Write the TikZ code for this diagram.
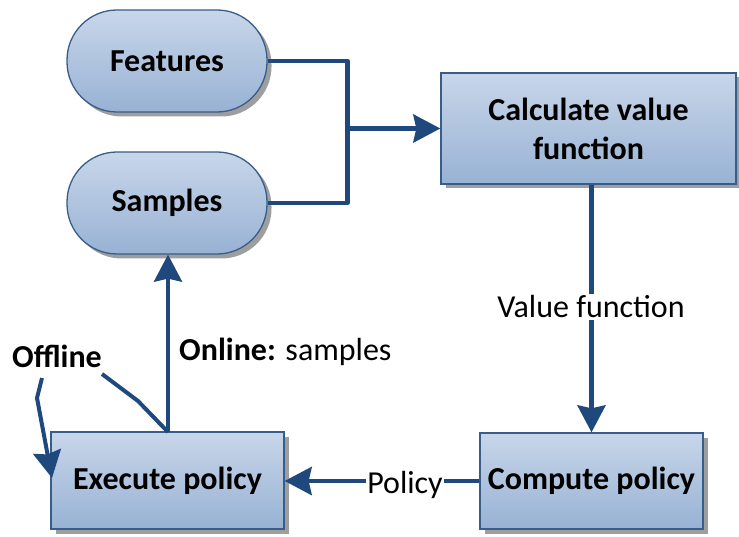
\documentclass[tikz,border=0pt]{standalone}
\usepackage{fontspec}
\setmainfont{Carlito}
\usetikzlibrary{arrows.meta,shadows}

\definecolor{boxtop}{RGB}{200,214,233}
\definecolor{boxbot}{RGB}{152,178,212}
\definecolor{boxline}{RGB}{56,93,138}
\definecolor{connblue}{RGB}{31,73,125}
\definecolor{shadowgray}{RGB}{158,158,158}

\tikzset{
  block/.style={draw=boxline, line width=1.3pt, shading=axis,
    top color=boxtop, bottom color=boxbot,
    drop shadow={shadow xshift=4.5pt, shadow yshift=-4.5pt, fill=shadowgray, opacity=1},
    font=\fontsize{32}{39}\selectfont\bfseries, align=center, inner sep=0pt},
  stadium/.style={block, rounded corners=50pt, minimum width=200pt, minimum height=102pt},
  conn/.style={draw=connblue, line width=4.5pt, line join=round},
  tip/.style={-{Stealth[length=27pt, width=28pt, inset=3pt]}},
  lbl/.style={font=\fontsize{32}{36}\selectfont, fill=white, inner sep=2pt}
}

\begin{document}
\begin{tikzpicture}[x=1pt, y=-1pt]
  \useasboundingbox (0,0) rectangle (739,537);

  % blocks
  \node[stadium] (features) at (167,61) {Features};
  \node[stadium] (samples) at (167,203) {Samples};
  \node[block, minimum width=295pt, minimum height=111pt] (calc) at (588.5,128.5)
    {Calculate value\\function};
  \node[block, minimum width=223pt, minimum height=96pt] (compute) at (591.5,481)
    {Compute policy};
  \node[block, minimum width=233pt, minimum height=97pt] (execute) at (167.5,480.5)
    {Execute policy};

  % merge of features and samples into the value function step
  \path (calc.west) ++(-93,0) coordinate (fork);
  \draw[conn] (features.east) -| (fork) |- (samples.east);
  \draw[conn, tip] (fork) -- (calc.west);

  % value function to policy computation
  \coordinate (vtop) at (compute.north |- calc.south);
  \draw[conn, tip] (vtop) -- (compute.north);
  \node[lbl] (vlabel) at (591,307) {Value function};

  % policy to execution
  \draw[conn, tip] (compute.west) -- (compute.west -| execute.east);
  \node[lbl, inner sep=1pt] (plabel) at (405,485) {Policy};

  % online loop back to samples
  \coordinate (etop) at (168,432);
  \draw[conn, line width=4pt, tip] (etop) -- (etop |- samples.south);
  \node[anchor=west, font=\fontsize{32}{36}\selectfont, inner sep=0pt] (online) at (179,352)
    {\textbf{Online:} samples};

  % offline path
  \node[font=\fontsize{32}{36}\selectfont\bfseries, inner sep=0pt] (offline) at (57,356) {Offline};
  \coordinate (offa) at (42,378);
  \coordinate (offb) at (37,398);
  \coordinate (offtip) at (52,478);
  \draw[conn, line width=4pt, tip] (offa) -- (offb) -- (offtip);
  \coordinate (offc) at (102,374);
  \coordinate (offd) at (138,401);
  \draw[conn, line width=4pt] (offc) -- (offd) -- (etop);
\end{tikzpicture}
\end{document}
